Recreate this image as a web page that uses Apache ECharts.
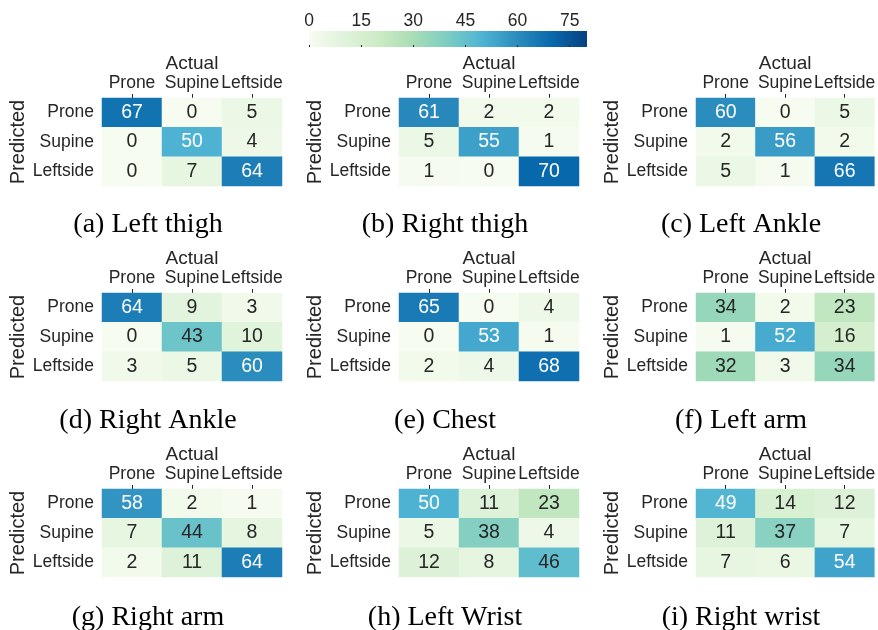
<!DOCTYPE html>
<html>
<head>
<meta charset="utf-8">
<script src="https://cdn.jsdelivr.net/npm/echarts@6/dist/echarts.min.js"></script>
<style>
html, body { margin: 0; padding: 0; background: #fff; }
#main { width: 878px; height: 630px; }
</style>
</head>
<body>
<div id="main"></div>
<script>
// class labels (rows = predicted, cols = actual)
var positions = ['Prone', 'Supine', 'Leftside'];
var cbTicks = [0, 15, 30, 45, 60, 75];

var leftThigh  = [[67, 0, 5], [0, 50, 4], [0, 7, 64]];
var rightThigh = [[61, 2, 2], [5, 55, 1], [1, 0, 70]];
var leftAnkle  = [[60, 0, 5], [2, 56, 2], [5, 1, 66]];
var rightAnkle = [[64, 9, 3], [0, 43, 10], [3, 5, 60]];
var chest      = [[65, 0, 4], [0, 53, 1], [2, 4, 68]];
var leftArm    = [[34, 2, 23], [1, 52, 16], [32, 3, 34]];
var rightArm   = [[58, 2, 1], [7, 44, 8], [2, 11, 64]];
var leftWrist  = [[50, 11, 23], [5, 38, 4], [12, 8, 46]];
var rightWrist = [[49, 14, 12], [11, 37, 7], [7, 6, 54]];

var panels = [leftThigh, rightThigh, leftAnkle, rightAnkle, chest, leftArm, rightArm, leftWrist, rightWrist];
var captions = ['(a) Left thigh', '(b) Right thigh', '(c) Left Ankle',
                '(d) Right Ankle', '(e) Chest', '(f) Left arm',
                '(g) Right arm', '(h) Left Wrist', '(i) Right wrist'];

// matplotlib GnBu
var gnbu = ['#f7fcf0', '#e0f3db', '#ccebc5', '#a8ddb5', '#7bccc4', '#4eb3d3', '#2b8cbe', '#0868ac', '#084081'];
var sans = '"Liberation Sans", Arial, sans-serif';
var ink = '#262626';

var colLeft = [102, 399, 696];
var rowTop = [98, 293, 489];
var capCenter = [148, 445, 741];
var capMiddle = [225, 421, 618];

var grids = [], xAxes = [], yAxes = [], series = [], graphics = [];

panels.forEach(function (m, k) {
    var c = k % 3, r = Math.floor(k / 3);
    grids.push({ left: colLeft[c], top: rowTop[r], width: 180, height: 88 });
    xAxes.push({
        gridIndex: k, type: 'category', data: positions, position: 'top',
        name: 'Actual', nameLocation: 'middle', nameGap: 22,
        nameTextStyle: { fontFamily: sans, fontSize: 19, color: ink },
        axisLine: { show: false },
        axisTick: { show: true, alignWithLabel: true, length: 4, lineStyle: { color: ink } },
        axisLabel: { interval: 0, hideOverlap: false, fontFamily: sans, fontSize: 17.5, color: ink, margin: 6 },
        splitLine: { show: false }
    });
    yAxes.push({
        gridIndex: k, type: 'category', data: positions, inverse: true,
        name: 'Predicted', nameLocation: 'middle', nameRotate: 90, nameGap: 74,
        nameTextStyle: { fontFamily: sans, fontSize: 20, color: ink },
        axisLine: { show: false },
        axisTick: { show: false },
        axisLabel: { interval: 0, fontFamily: sans, fontSize: 17.5, color: ink, margin: 8 },
        splitLine: { show: false }
    });
    var data = [];
    m.forEach(function (row, i) {
        row.forEach(function (v, j) {
            data.push({ value: [j, i, v], label: { color: v > 47 ? '#ffffff' : ink } });
        });
    });
    series.push({
        type: 'heatmap', xAxisIndex: k, yAxisIndex: k, data: data,
        label: {
            show: true, fontFamily: sans, fontSize: 19.5,
            formatter: function (p) { return p.value[2]; }
        },
        itemStyle: { borderWidth: 0 },
        emphasis: { disabled: true }
    });
    graphics.push({
        type: 'text', x: capCenter[c], y: capMiddle[r],
        style: {
            text: captions[k], align: 'center', verticalAlign: 'middle',
            font: '28px "Liberation Serif", "Times New Roman", serif', fill: '#000'
        }
    });
});

// colorbar: gradient from the same colour map, ticks from a value axis
graphics.push({
    type: 'rect', left: 309, top: 31, z: -1,
    shape: { width: 278, height: 16 },
    style: {
        fill: new echarts.graphic.LinearGradient(0, 0, 1, 0, gnbu.map(function (col, i) {
            return { offset: i / (gnbu.length - 1), color: col };
        }))
    }
});
grids.push({ left: 309, top: 31, width: 278, height: 16 });
xAxes.push({
    gridIndex: 9, type: 'value', min: 0, max: 80, position: 'top',
    axisLine: { show: false },
    axisTick: { show: true, length: 2, customValues: cbTicks, lineStyle: { color: ink } },
    axisLabel: { customValues: cbTicks, fontFamily: sans, fontSize: 17.5, color: ink, margin: 1 },
    splitLine: { show: false }
});
yAxes.push({ gridIndex: 9, type: 'value', show: false });

var chart = echarts.init(document.getElementById('main'));
chart.setOption({
    animation: false,
    grid: grids,
    xAxis: xAxes,
    yAxis: yAxes,
    visualMap: {
        type: 'continuous', min: 0, max: 80, dimension: 2, show: false,
        seriesIndex: [0, 1, 2, 3, 4, 5, 6, 7, 8],
        inRange: { color: gnbu }
    },
    series: series,
    graphic: graphics
});
</script>
</body>
</html>
